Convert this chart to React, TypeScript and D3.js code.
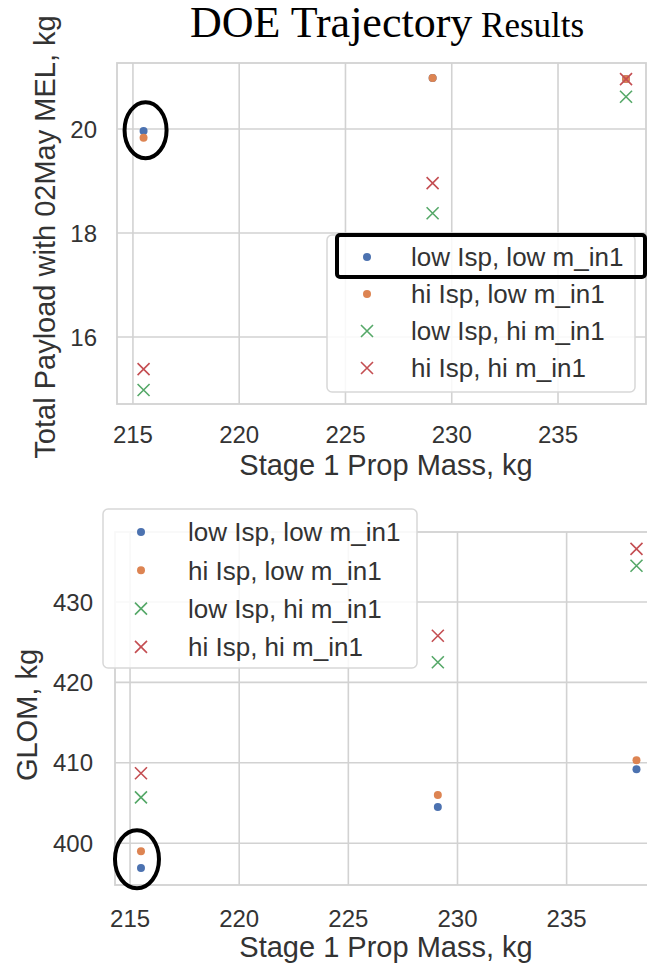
import React from "react";
import * as d3 from "d3";

const propMass = [215.5, 229.1, 238.2];
const seriesNames = ["low Isp, low m_in1", "hi Isp, low m_in1", "low Isp, hi m_in1", "hi Isp, hi m_in1"];
const seriesMarkers = ["dot", "dot", "x", "x"];
const seriesColors = ["#4C72B0", "#DD8452", "#55A868", "#C44E52"];

const payloadLowLow = [19.96, 20.98, 20.96];
const payloadHiLow = [19.83, 20.98, 20.96];
const payloadLowHi = [14.98, 18.38, 20.62];
const payloadHiHi = [15.38, 18.96, 20.96];

const glomLowLow = [396.9, 404.5, 409.2];
const glomHiLow = [399.0, 406.0, 410.3];
const glomLowHi = [405.7, 422.5, 434.5];
const glomHiHi = [408.7, 425.8, 436.6];

const xTicks = [215, 220, 225, 230, 235];
const payloadTicks = [16, 18, 20];
const glomTicks = [400, 410, 420, 430];

const SANS = "'Liberation Sans', Arial, sans-serif";
const TXT = "#333333";
const GRID = "#d2d2d2";

function Marker({ kind, x, y, color }: { kind: string; x: number; y: number; color: string }) {
  if (kind === "dot") return <circle cx={x} cy={y} r={4} fill={color} />;
  const s = 6;
  return (
    <path d={`M${x - s},${y - s}L${x + s},${y + s}M${x - s},${y + s}L${x + s},${y - s}`} stroke={color} strokeWidth={1.6} fill="none" />
  );
}

function Panel(props: any) {
  const { xs, ys, series, yTicks, yLabel, yLabelX, yLabelY, xTickY, xLabelY, yTickX, legend, clipId } = props;
  const [x0, x1] = xs.range();
  const [yb, yt] = ys.range();
  return (
    <g>
      <defs>
        <clipPath id={clipId}>
          <rect x={x0} y={yt} width={x1 - x0} height={yb - yt} />
        </clipPath>
      </defs>
      {xTicks.map((t: number) => (
        <line key={"gx" + t} x1={xs(t)} x2={xs(t)} y1={yt} y2={yb} stroke={GRID} strokeWidth={1.6} />
      ))}
      {yTicks.map((t: number) => (
        <line key={"gy" + t} x1={x0} x2={x1} y1={ys(t)} y2={ys(t)} stroke={GRID} strokeWidth={1.6} />
      ))}
      <rect x={x0} y={yt} width={x1 - x0} height={yb - yt} fill="none" stroke={GRID} strokeWidth={1.8} />
      <g clipPath={`url(#${clipId})`}>
        {series.map((vals: number[], si: number) =>
          vals.map((v: number, i: number) => (
            <Marker key={si + "-" + i} kind={seriesMarkers[si]} x={xs(propMass[i])} y={ys(v)} color={seriesColors[si]} />
          ))
        )}
      </g>
      {xTicks.map((t: number) => (
        <text key={"tx" + t} x={xs(t)} y={xTickY} textAnchor="middle" fontFamily={SANS} fontSize={24} fill={TXT}>
          {t}
        </text>
      ))}
      {yTicks.map((t: number) => (
        <text key={"ty" + t} x={yTickX} y={ys(t)} dy="0.36em" textAnchor="end" fontFamily={SANS} fontSize={24} fill={TXT}>
          {t}
        </text>
      ))}
      <text x={386} y={xLabelY} textAnchor="middle" fontFamily={SANS} fontSize={29} fill={TXT}>
        Stage 1 Prop Mass, kg
      </text>
      <text transform={`translate(${yLabelX},${yLabelY}) rotate(-90)`} textAnchor="middle" fontFamily={SANS} fontSize={29} fill={TXT}>
        {yLabel}
      </text>
      <g>
        <rect x={legend.x} y={legend.y} width={legend.w} height={legend.h} rx={5} fill="white" fillOpacity={0.85} stroke="#d8d8d8" strokeWidth={1.5} />
        {seriesNames.map((n, i) => (
          <g key={n}>
            <Marker kind={seriesMarkers[i]} x={legend.mx} y={legend.ry + i * legend.step} color={seriesColors[i]} />
            <text x={legend.tx} y={legend.ry + i * legend.step} dy="0.36em" fontFamily={SANS} fontSize={26} fill={TXT}>
              {n}
            </text>
          </g>
        ))}
      </g>
    </g>
  );
}

export default function App() {
  const xTop = d3.scaleLinear().domain([214.25, 239.14]).range([117, 646]);
  const yTop = d3.scaleLinear().domain([14.71, 21.27]).range([404, 63]);
  const xBot = d3.scaleLinear().domain([214.31, 239.14]).range([115, 657]);
  const yBot = d3.scaleLinear().domain([394.8, 438.7]).range([885, 532]);

  return (
    <svg width={647} height={968} style={{ position: "absolute", left: 0, top: 0, background: "white" }}>
      <rect width={647} height={968} fill="white" />
      <text x={190} y={37} fontFamily="'Liberation Serif', 'Times New Roman', serif" fill="#000">
        <tspan fontSize={44}>DOE Trajectory</tspan>
        <tspan fontSize={35}> Results</tspan>
      </text>
      <Panel
        xs={xTop}
        ys={yTop}
        series={[payloadLowLow, payloadHiLow, payloadLowHi, payloadHiHi]}
        yTicks={payloadTicks}
        yLabel="Total Payload with 02May MEL, kg"
        yLabelX={55}
        yLabelY={237}
        xTickY={443}
        xLabelY={475}
        yTickX={97}
        clipId="clipTop"
        legend={{ x: 327, y: 235, w: 308, h: 157, mx: 367, tx: 411, ry: 257, step: 37 }}
      />
      <Panel
        xs={xBot}
        ys={yBot}
        series={[glomLowLow, glomHiLow, glomLowHi, glomHiHi]}
        yTicks={glomTicks}
        yLabel="GLOM, kg"
        yLabelX={37}
        yLabelY={715}
        xTickY={927}
        xLabelY={957}
        yTickX={93}
        clipId="clipBot"
        legend={{ x: 103, y: 509, w: 314, h: 159, mx: 141, tx: 188, ry: 532, step: 38.3 }}
      />
      <rect x={337} y={235} width={308} height={42} rx={3} fill="none" stroke="#000" strokeWidth={4} />
      <ellipse cx={xTop(215.5) + 2} cy={yTop(19.9) - 4} rx={21} ry={28} fill="none" stroke="#000" strokeWidth={4} />
      <ellipse cx={xBot(215.5) - 4} cy={yBot(398)} rx={22} ry={29} fill="none" stroke="#000" strokeWidth={4} />
    </svg>
  );
}
